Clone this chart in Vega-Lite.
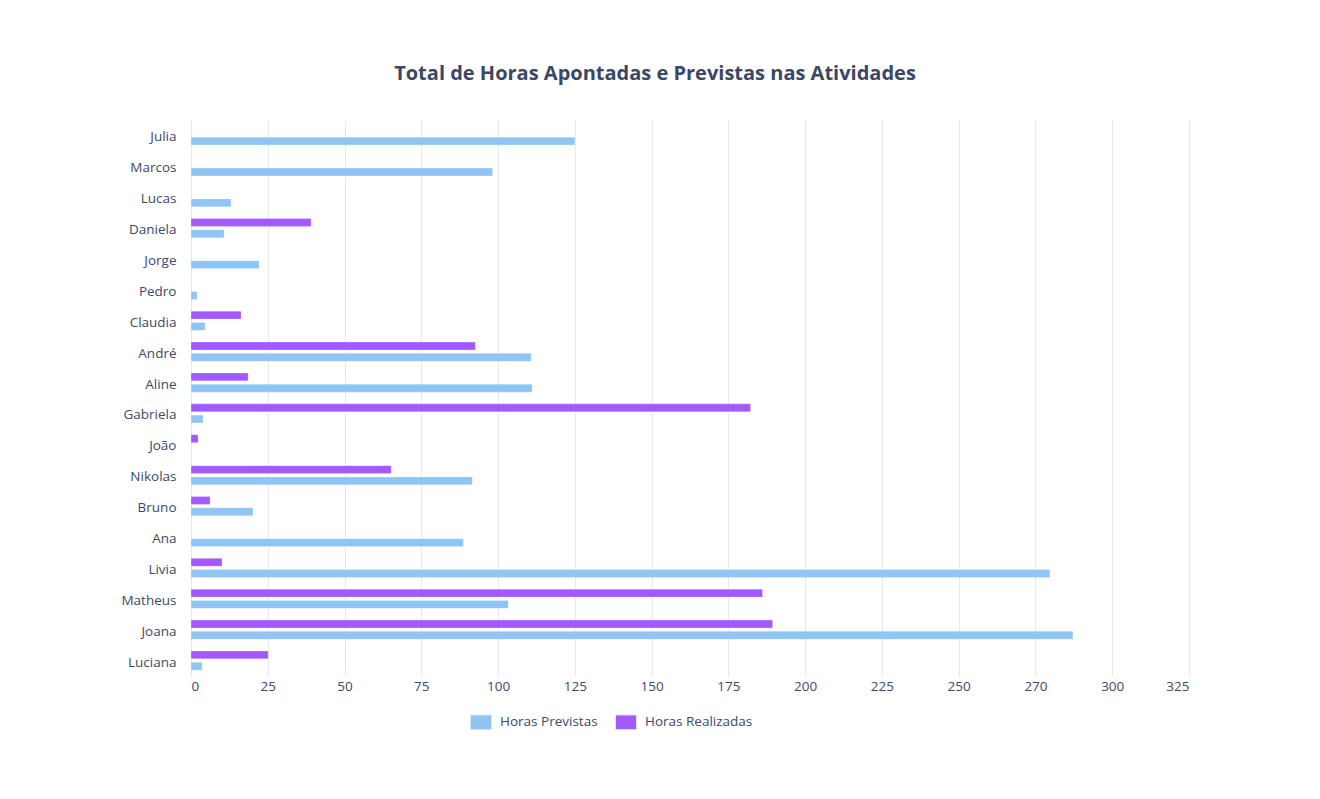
{
  "$schema": "https://vega.github.io/schema/vega-lite/v6.json",
  "width": 998,
  "height": 556,
  "autosize": {"type": "none"},
  "padding": {"left": 191, "top": 120, "right": 131, "bottom": 123},
  "background": "white",
  "title": {
    "text": "Total de Horas Apontadas e Previstas nas Atividades",
    "font": "Open Sans",
    "fontSize": 20,
    "fontWeight": "bold",
    "color": "#3a4766",
    "anchor": "middle",
    "frame": "bounds",
    "offset": 36
  },
  "data": {
    "values": [
      {"nome": "Julia", "serie": "Horas Previstas", "horas": 125},
      {"nome": "Marcos", "serie": "Horas Previstas", "horas": 98.2},
      {"nome": "Lucas", "serie": "Horas Previstas", "horas": 13},
      {"nome": "Daniela", "serie": "Horas Realizadas", "horas": 39.1},
      {"nome": "Daniela", "serie": "Horas Previstas", "horas": 10.8},
      {"nome": "Jorge", "serie": "Horas Previstas", "horas": 22.2},
      {"nome": "Pedro", "serie": "Horas Previstas", "horas": 2},
      {"nome": "Claudia", "serie": "Horas Realizadas", "horas": 16.3},
      {"nome": "Claudia", "serie": "Horas Previstas", "horas": 4.6},
      {"nome": "André", "serie": "Horas Realizadas", "horas": 92.6},
      {"nome": "André", "serie": "Horas Previstas", "horas": 110.8},
      {"nome": "Aline", "serie": "Horas Realizadas", "horas": 18.6},
      {"nome": "Aline", "serie": "Horas Previstas", "horas": 111.1},
      {"nome": "Gabriela", "serie": "Horas Realizadas", "horas": 182.2},
      {"nome": "Gabriela", "serie": "Horas Previstas", "horas": 3.9},
      {"nome": "João", "serie": "Horas Realizadas", "horas": 2.3},
      {"nome": "Nikolas", "serie": "Horas Realizadas", "horas": 65.2},
      {"nome": "Nikolas", "serie": "Horas Previstas", "horas": 91.6},
      {"nome": "Bruno", "serie": "Horas Realizadas", "horas": 6.2},
      {"nome": "Bruno", "serie": "Horas Previstas", "horas": 20.2},
      {"nome": "Ana", "serie": "Horas Previstas", "horas": 88.7},
      {"nome": "Livia", "serie": "Horas Realizadas", "horas": 10.1},
      {"nome": "Livia", "serie": "Horas Previstas", "horas": 279.7},
      {"nome": "Matheus", "serie": "Horas Realizadas", "horas": 186.1},
      {"nome": "Matheus", "serie": "Horas Previstas", "horas": 103.3},
      {"nome": "Joana", "serie": "Horas Realizadas", "horas": 189.4},
      {"nome": "Joana", "serie": "Horas Previstas", "horas": 287.2},
      {"nome": "Luciana", "serie": "Horas Realizadas", "horas": 25.1},
      {"nome": "Luciana", "serie": "Horas Previstas", "horas": 3.6}
    ]
  },
  "mark": {"type": "bar", "stroke": "white", "strokeOpacity": 0.5, "strokeWidth": 0.5},
  "encoding": {
    "y": {
      "field": "nome",
      "type": "nominal",
      "sort": ["Julia", "Marcos", "Lucas", "Daniela", "Jorge", "Pedro", "Claudia", "André", "Aline", "Gabriela", "João", "Nikolas", "Bruno", "Ana", "Livia", "Matheus", "Joana", "Luciana"],
      "scale": {"paddingInner": 0.38, "paddingOuter": 0.19},
      "axis": {
        "title": null,
        "domain": false,
        "ticks": false,
        "labelPadding": 15,
        "labelFont": "Open Sans",
        "labelFontSize": 13.5,
        "labelColor": "#3d4966",
        "labelOffset": 2
      }
    },
    "yOffset": {
      "field": "serie",
      "type": "nominal",
      "sort": ["Horas Realizadas", "Horas Previstas"],
      "scale": {"domain": ["Horas Realizadas", "Horas Previstas"], "paddingInner": 0.3, "paddingOuter": 0}
    },
    "x": {
      "field": "horas",
      "type": "quantitative",
      "scale": {"domain": [0, 325], "nice": false},
      "axis": {
        "title": null,
        "values": [0, 25, 50, 75, 100, 125, 150, 175, 200, 225, 250, 275, 300, 325],
        "labelExpr": "datum.value == 275 ? '270' : datum.label",
        "domain": false,
        "ticks": false,
        "labelPadding": 3,
        "labelFont": "Open Sans",
        "labelFontSize": 13.5,
        "labelColor": "#3d4966",
        "gridColor": "#e4e8ef",
        "gridWidth": 1
      }
    },
    "color": {
      "field": "serie",
      "type": "nominal",
      "scale": {"domain": ["Horas Previstas", "Horas Realizadas"], "range": ["#8ec5f4", "#a259ff"]},
      "legend": {
        "title": null,
        "orient": "none",
        "direction": "horizontal",
        "legendX": 279,
        "legendY": 591,
        "labelFont": "Open Sans",
        "labelFontSize": 13.5,
        "labelColor": "#3d4966",
        "symbolType": "M-1,-0.7L1,-0.7L1,0.7L-1,0.7Z",
        "symbolSize": 441,
        "symbolStrokeWidth": 1,
        "symbolStrokeColor": "#dfe8f7",
        "symbolOpacity": 1,
        "columnPadding": 15,
        "labelOffset": 8
      }
    }
  },
  "config": {
    "view": {"stroke": null}
  }
}
